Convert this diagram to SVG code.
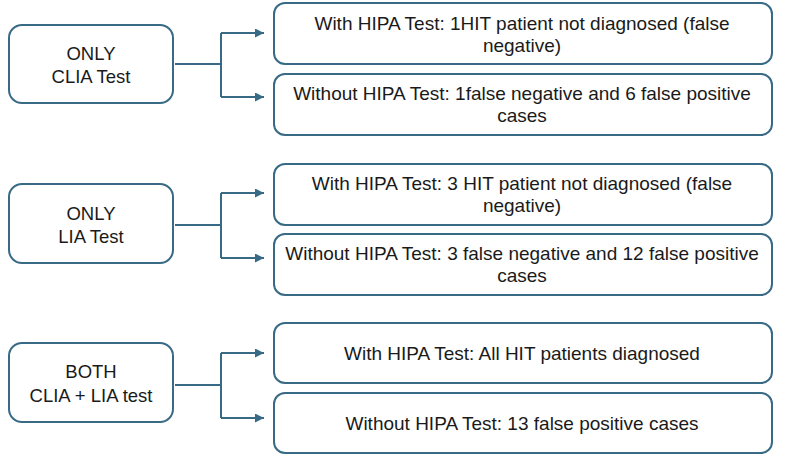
<svg xmlns="http://www.w3.org/2000/svg" width="800" height="458" viewBox="0 0 800 458">
<defs>
<style>
.box{fill:#fff;stroke:#386A86;stroke-width:2}
.con{fill:none;stroke:#386A86;stroke-width:2}
.t{font-family:"Liberation Sans",Arial,sans-serif;font-size:19px;fill:#1a1a1a;text-anchor:middle}
.tl{font-family:"Liberation Sans",Arial,sans-serif;font-size:18.5px;fill:#1a1a1a;text-anchor:middle}
</style>
<marker id="ah" viewBox="0 0 10 10" refX="10" refY="5" markerWidth="4.5" markerHeight="4.5" orient="auto" markerUnits="strokeWidth">
<path d="M0,0 L10,5 L0,10 z" fill="#386A86"/>
</marker>
</defs>
<rect width="800" height="458" fill="#fff"/>
<g id="connectors">
<path class="con" d="M175,64 H221 M221,33 V97"/>
<path class="con" d="M221,33 H264" marker-end="url(#ah)"/>
<path class="con" d="M221,97 H264" marker-end="url(#ah)"/>
<path class="con" d="M175,225 H221 M221,193 V258"/>
<path class="con" d="M221,193 H264" marker-end="url(#ah)"/>
<path class="con" d="M221,258 H264" marker-end="url(#ah)"/>
<path class="con" d="M175,385 H221 M221,353 V418"/>
<path class="con" d="M221,353 H264" marker-end="url(#ah)"/>
<path class="con" d="M221,418 H264" marker-end="url(#ah)"/>
</g>
<g id="n1"><rect class="box" x="9" y="25" width="164" height="78" rx="13"/><text class="tl" x="91" y="60">ONLY</text><text class="tl" x="91" y="83">CLIA Test</text></g>
<g id="n1a"><rect class="box" x="274" y="3" width="498" height="61" rx="11"/><text class="t" x="522" y="30">With HIPA Test: 1HIT patient not diagnosed (false</text><text class="t" x="522" y="52">negative)</text></g>
<g id="n1b"><rect class="box" x="274" y="74" width="498" height="61" rx="11"/><text class="t" x="522" y="100">Without HIPA Test: 1false negative and 6 false positive</text><text class="t" x="522" y="122">cases</text></g>
<g id="n2"><rect class="box" x="9" y="184" width="164" height="79" rx="13"/><text class="tl" x="91" y="220">ONLY</text><text class="tl" x="91" y="243">LIA Test</text></g>
<g id="n2a"><rect class="box" x="274" y="164" width="498" height="61" rx="11"/><text class="t" x="522" y="190">With HIPA Test: 3 HIT patient not diagnosed (false</text><text class="t" x="522" y="212">negative)</text></g>
<g id="n2b"><rect class="box" x="274" y="234" width="498" height="61" rx="11"/><text class="t" x="522" y="260">Without HIPA Test: 3 false negative and 12 false positive</text><text class="t" x="522" y="282">cases</text></g>
<g id="n3"><rect class="box" x="9" y="343" width="164" height="79" rx="13"/><text class="tl" x="91" y="378">BOTH</text><text class="tl" x="91" y="402">CLIA + LIA test</text></g>
<g id="n3a"><rect class="box" x="274" y="323" width="498" height="60" rx="11"/><text class="t" x="522" y="360">With HIPA Test: All HIT patients diagnosed</text></g>
<g id="n3b"><rect class="box" x="274" y="393" width="498" height="60" rx="11"/><text class="t" x="522" y="430">Without HIPA Test: 13 false positive cases</text></g>
</svg>
